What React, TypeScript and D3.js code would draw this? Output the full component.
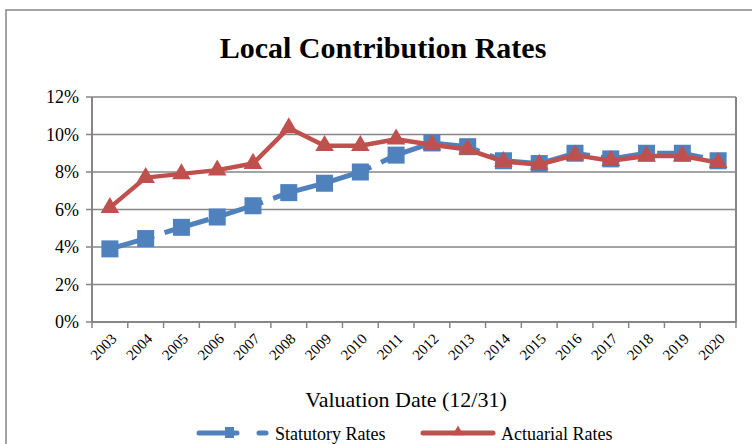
import * as d3 from "d3";

const years = [
  "2003", "2004", "2005", "2006", "2007", "2008", "2009", "2010", "2011",
  "2012", "2013", "2014", "2015", "2016", "2017", "2018", "2019", "2020",
];
const statutoryRates = [
  3.9, 4.45, 5.05, 5.6, 6.2, 6.9, 7.4, 8.0, 8.9, 9.55, 9.35, 8.6, 8.45, 9.0, 8.7, 9.0, 9.0, 8.6,
];
const actuarialRates = [
  6.1, 7.7, 7.9, 8.1, 8.45, 10.35, 9.4, 9.4, 9.75, 9.45, 9.2, 8.55, 8.4, 8.9, 8.6, 8.85, 8.85, 8.5,
];
const yTicks = [0, 2, 4, 6, 8, 10, 12];

const W = 752;
const H = 444;
const plot = { left: 92, right: 736, top: 97, bottom: 322 };
const blue = "#4F81BD";
const red = "#C0504D";
const gridColor = "#868686";
const serif = "'Liberation Serif', 'Times New Roman', serif";

export default function App() {
  const x = d3.scaleBand<string>().domain(years).range([plot.left, plot.right]).padding(0);
  const y = d3.scaleLinear().domain([0, 12]).range([plot.bottom, plot.top]);
  const cx = (d: string) => (x(d) as number) + x.bandwidth() / 2;

  const line = d3
    .line<number>()
    .x((_, i) => cx(years[i]))
    .y((v) => y(v));

  const tri = d3.symbol().type(d3.symbolTriangle).size(150)();
  const legendTri = d3.symbol().type(d3.symbolTriangle).size(55)();

  return (
    <svg
      width={W}
      height={H}
      style={{ position: "absolute", left: 0, top: 0, background: "#fff" }}
    >
      <rect x={6} y={10} width={800} height={500} fill="#fff" stroke={gridColor} strokeWidth={1.5} />
      <text
        x={383}
        y={58}
        textAnchor="middle"
        fontFamily={serif}
        fontWeight="bold"
        fontSize={30}
      >
        Local Contribution Rates
      </text>

      {/* gridlines and y axis */}
      {yTicks.map((t) => (
        <g key={t}>
          <line x1={plot.left - 6} x2={plot.right} y1={y(t)} y2={y(t)} stroke={gridColor} strokeWidth={1.5} />
          <text
            x={79}
            y={y(t)}
            dy="0.35em"
            textAnchor="end"
            fontFamily={serif}
            fontSize={18}
          >
            {t}%
          </text>
        </g>
      ))}
      <line x1={plot.left} x2={plot.left} y1={plot.top} y2={plot.bottom} stroke={gridColor} strokeWidth={2} />
      <line x1={plot.right} x2={plot.right} y1={plot.top} y2={plot.bottom} stroke={gridColor} strokeWidth={2} />
      <line x1={plot.left} x2={plot.right} y1={plot.bottom} y2={plot.bottom} stroke={gridColor} strokeWidth={2} />

      {/* x ticks and labels */}
      {years.map((yr) => (
        <g key={yr}>
          <line
            x1={x(yr) as number}
            x2={x(yr) as number}
            y1={plot.bottom}
            y2={plot.bottom + 6}
            stroke={gridColor}
            strokeWidth={1.5}
          />
          <text
            transform={`translate(${cx(yr) + 4},${plot.bottom + 14}) rotate(-45)`}
            textAnchor="end"
            dy="0.35em"
            fontFamily={serif}
            fontSize={15}
          >
            {yr}
          </text>
        </g>
      ))}
      <line x1={plot.right} x2={plot.right} y1={plot.bottom} y2={plot.bottom + 6} stroke={gridColor} strokeWidth={1.5} />

      {/* statutory series */}
      <path
        d={line(statutoryRates) ?? ""}
        fill="none"
        stroke={blue}
        strokeWidth={5}
        strokeDasharray="46,11"
      />
      {statutoryRates.map((v, i) => (
        <rect key={i} x={cx(years[i]) - 8.5} y={y(v) - 8.5} width={17} height={17} fill={blue} />
      ))}

      {/* actuarial series */}
      <path d={line(actuarialRates) ?? ""} fill="none" stroke={red} strokeWidth={4.5} strokeLinejoin="round" />
      {actuarialRates.map((v, i) => (
        <path key={i} d={tri ?? ""} transform={`translate(${cx(years[i])},${y(v)})`} fill={red} />
      ))}

      <text x={406} y={407} textAnchor="middle" fontFamily={serif} fontSize={22}>
        Valuation Date (12/31)
      </text>

      {/* legend */}
      <line x1={199} x2={237} y1={433} y2={433} stroke={blue} strokeWidth={5} strokeLinecap="round" />
      <line x1={259} x2={266} y1={433} y2={433} stroke={blue} strokeWidth={5} strokeLinecap="round" />
      <rect x={225} y={427} width={9} height={11} fill={blue} />
      <text x={275} y={440} fontFamily={serif} fontSize={18}>
        Statutory Rates
      </text>
      <line x1={423} x2={493} y1={433} y2={433} stroke={red} strokeWidth={5} strokeLinecap="round" />
      <path d={legendTri ?? ""} transform="translate(458,432)" fill={red} />
      <text x={501} y={440} fontFamily={serif} fontSize={18}>
        Actuarial Rates
      </text>
    </svg>
  );
}
